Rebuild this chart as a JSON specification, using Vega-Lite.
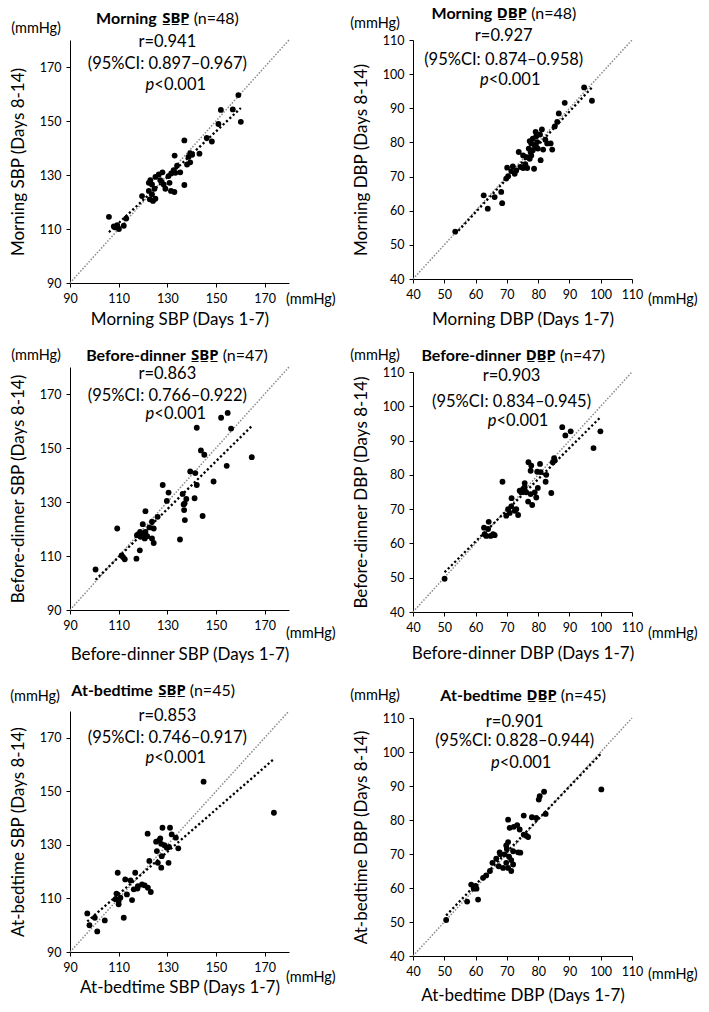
{
  "$schema": "https://vega.github.io/schema/vega-lite/v6.json",
  "background": "white",
  "padding": {"left": 9, "top": 6, "right": 3, "bottom": 3},
  "config": {
    "view": {"stroke": null},
    "axis": {"grid": false, "domainColor": "#000", "tickColor": "#000", "labelColor": "#000", "titleColor": "#000", "labelFont": "Lato", "titleFont": "Lato", "labelFontSize": 12.5, "titleFontSize": 17, "titleFontWeight": "normal", "tickSize": 4, "labelFlush": false, "labelOverlap": false},
    "axisX": {"labelPadding": 5, "titlePadding": 5},
    "axisY": {"labelPadding": 5, "titlePadding": 12},
    "text": {"font": "Lato", "fontSize": 16.5, "color": "#000"}
  },
  "datasets": {
    "p1": [{"x":159.2,"y":159.6},{"x":152.0,"y":154.1},{"x":156.9,"y":154.3},{"x":160.2,"y":149.7},{"x":151.0,"y":148.9},{"x":146.2,"y":143.7},{"x":148.3,"y":142.4},{"x":137.0,"y":142.8},{"x":133.0,"y":137.2},{"x":139.4,"y":138.1},{"x":138.7,"y":136.7},{"x":143.2,"y":137.9},{"x":139.4,"y":134.7},{"x":138.1,"y":133.9},{"x":134.0,"y":133.5},{"x":132.6,"y":131.8},{"x":131.6,"y":130.6},{"x":133.3,"y":130.8},{"x":130.5,"y":129.6},{"x":126.5,"y":130.2},{"x":125.1,"y":129.3},{"x":123.0,"y":128.1},{"x":122.4,"y":127.1},{"x":123.7,"y":126.5},{"x":127.1,"y":128.1},{"x":128.5,"y":126.5},{"x":130.9,"y":127.1},{"x":129.2,"y":124.9},{"x":131.5,"y":124.1},{"x":132.9,"y":123.7},{"x":137.0,"y":126.3},{"x":124.7,"y":124.9},{"x":123.7,"y":122.8},{"x":125.1,"y":121.2},{"x":124.1,"y":120.4},{"x":119.6,"y":122.2},{"x":122.4,"y":124.1},{"x":122.8,"y":121.0},{"x":106.0,"y":114.5},{"x":109.4,"y":111.4},{"x":108.7,"y":110.6},{"x":112.1,"y":111.2},{"x":110.1,"y":110.0},{"x":113.1,"y":113.9},{"x":108.0,"y":111.0},{"x":135.3,"y":131.0},{"x":140.2,"y":137.5},{"x":128.0,"y":131.0}],
    "p2": [{"x":94.7,"y":96.1},{"x":97.2,"y":92.2},{"x":88.5,"y":91.6},{"x":86.6,"y":88.5},{"x":86.1,"y":86.0},{"x":85.3,"y":84.7},{"x":81.2,"y":83.8},{"x":80.6,"y":82.3},{"x":79.4,"y":81.8},{"x":78.3,"y":81.1},{"x":77.3,"y":80.4},{"x":77.8,"y":79.7},{"x":82.9,"y":79.7},{"x":84.0,"y":79.7},{"x":84.5,"y":77.9},{"x":81.6,"y":77.9},{"x":79.9,"y":78.2},{"x":78.3,"y":77.7},{"x":77.6,"y":77.2},{"x":73.8,"y":77.2},{"x":75.2,"y":76.2},{"x":76.2,"y":75.7},{"x":77.3,"y":75.2},{"x":77.8,"y":76.2},{"x":80.8,"y":74.8},{"x":70.1,"y":72.6},{"x":71.4,"y":71.6},{"x":72.5,"y":70.8},{"x":73.0,"y":71.8},{"x":74.4,"y":72.8},{"x":75.2,"y":72.5},{"x":76.5,"y":72.5},{"x":78.7,"y":72.3},{"x":69.8,"y":69.4},{"x":62.6,"y":64.5},{"x":66.1,"y":64.0},{"x":68.2,"y":65.5},{"x":63.9,"y":60.6},{"x":68.5,"y":62.2},{"x":53.5,"y":53.9},{"x":79.2,"y":83.1},{"x":79.7,"y":80.1},{"x":82.3,"y":80.8},{"x":77.0,"y":78.2},{"x":70.4,"y":70.1},{"x":71.9,"y":73.0},{"x":78.9,"y":79.2},{"x":75.9,"y":73.6}],
    "p3": [{"x":154.8,"y":163.0},{"x":152.1,"y":161.2},{"x":142.1,"y":157.5},{"x":156.2,"y":157.2},{"x":164.7,"y":146.6},{"x":154.4,"y":143.4},{"x":143.8,"y":149.1},{"x":145.2,"y":147.5},{"x":139.4,"y":141.3},{"x":141.5,"y":140.7},{"x":149.0,"y":137.6},{"x":142.1,"y":136.3},{"x":128.1,"y":136.3},{"x":130.5,"y":133.5},{"x":136.3,"y":133.0},{"x":137.8,"y":131.1},{"x":141.2,"y":131.4},{"x":129.8,"y":130.4},{"x":136.7,"y":129.1},{"x":136.9,"y":127.0},{"x":137.2,"y":123.3},{"x":144.5,"y":124.8},{"x":135.2,"y":116.1},{"x":121.0,"y":126.6},{"x":126.0,"y":124.5},{"x":123.7,"y":122.7},{"x":119.9,"y":121.8},{"x":109.4,"y":120.2},{"x":124.4,"y":120.2},{"x":118.8,"y":118.9},{"x":117.5,"y":117.7},{"x":120.2,"y":118.3},{"x":121.0,"y":118.9},{"x":119.0,"y":117.1},{"x":121.7,"y":117.3},{"x":123.7,"y":116.5},{"x":124.4,"y":114.8},{"x":118.7,"y":112.1},{"x":117.3,"y":109.0},{"x":111.8,"y":109.6},{"x":112.5,"y":108.8},{"x":111.2,"y":110.2},{"x":100.5,"y":105.0},{"x":122.6,"y":120.6},{"x":118.1,"y":118.1},{"x":137.1,"y":129.5},{"x":120.7,"y":116.5}],
    "p4": [{"x":87.7,"y":93.9},{"x":90.4,"y":92.7},{"x":88.7,"y":91.5},{"x":99.9,"y":92.7},{"x":97.7,"y":87.8},{"x":85.1,"y":84.9},{"x":84.7,"y":83.7},{"x":76.9,"y":83.7},{"x":77.6,"y":81.2},{"x":80.6,"y":83.2},{"x":79.7,"y":80.9},{"x":80.8,"y":80.8},{"x":82.6,"y":80.0},{"x":82.4,"y":78.0},{"x":68.6,"y":78.0},{"x":75.7,"y":77.6},{"x":75.2,"y":75.9},{"x":76.2,"y":74.9},{"x":79.9,"y":76.2},{"x":78.9,"y":74.9},{"x":77.6,"y":74.4},{"x":74.6,"y":74.9},{"x":84.2,"y":74.7},{"x":76.8,"y":72.2},{"x":78.1,"y":71.2},{"x":71.5,"y":73.2},{"x":71.4,"y":70.8},{"x":72.5,"y":69.5},{"x":70.9,"y":68.9},{"x":69.8,"y":68.1},{"x":73.6,"y":68.3},{"x":64.2,"y":66.3},{"x":62.7,"y":64.6},{"x":64.0,"y":64.2},{"x":63.4,"y":62.2},{"x":64.8,"y":62.2},{"x":66.1,"y":62.4},{"x":50.1,"y":49.7},{"x":74.1,"y":75.4},{"x":75.7,"y":76.4},{"x":79.4,"y":73.4},{"x":73.0,"y":70.0},{"x":62.9,"y":62.7},{"x":65.6,"y":62.7},{"x":85.3,"y":84.2},{"x":77.8,"y":82.7},{"x":70.4,"y":70.0}],
    "p5": [{"x":144.9,"y":153.6},{"x":173.8,"y":142.0},{"x":121.9,"y":134.2},{"x":128.0,"y":136.4},{"x":131.1,"y":136.4},{"x":131.8,"y":133.9},{"x":133.5,"y":132.7},{"x":127.1,"y":132.4},{"x":125.4,"y":131.2},{"x":127.5,"y":130.4},{"x":128.8,"y":129.9},{"x":130.7,"y":129.2},{"x":134.5,"y":128.7},{"x":125.7,"y":127.7},{"x":127.7,"y":125.8},{"x":122.6,"y":124.0},{"x":126.1,"y":123.3},{"x":130.5,"y":123.3},{"x":127.5,"y":121.5},{"x":109.6,"y":119.6},{"x":112.7,"y":117.1},{"x":114.9,"y":116.7},{"x":116.8,"y":119.6},{"x":119.6,"y":115.2},{"x":117.9,"y":114.6},{"x":116.2,"y":113.4},{"x":122.0,"y":114.0},{"x":123.2,"y":112.4},{"x":113.4,"y":111.5},{"x":109.1,"y":111.8},{"x":110.7,"y":110.3},{"x":108.7,"y":109.7},{"x":110.0,"y":107.8},{"x":115.5,"y":109.4},{"x":112.1,"y":102.8},{"x":97.1,"y":104.4},{"x":100.2,"y":102.8},{"x":104.3,"y":101.8},{"x":98.0,"y":100.0},{"x":101.2,"y":97.7},{"x":120.7,"y":114.9},{"x":129.8,"y":128.9},{"x":126.7,"y":131.8},{"x":110.0,"y":109.0},{"x":117.7,"y":113.7}],
    "p6": [{"x":100.2,"y":89.0},{"x":81.9,"y":88.3},{"x":80.5,"y":87.0},{"x":80.2,"y":86.0},{"x":82.4,"y":81.8},{"x":75.4,"y":81.3},{"x":78.0,"y":80.8},{"x":79.4,"y":80.6},{"x":70.4,"y":80.1},{"x":73.3,"y":78.5},{"x":70.9,"y":77.7},{"x":74.1,"y":77.2},{"x":75.4,"y":75.7},{"x":76.2,"y":75.4},{"x":76.8,"y":75.0},{"x":70.4,"y":73.5},{"x":69.8,"y":72.5},{"x":70.0,"y":71.5},{"x":73.6,"y":70.5},{"x":74.3,"y":70.4},{"x":72.0,"y":70.8},{"x":67.9,"y":69.9},{"x":69.3,"y":69.9},{"x":70.7,"y":69.2},{"x":71.4,"y":68.2},{"x":66.6,"y":68.6},{"x":65.4,"y":67.4},{"x":69.8,"y":67.4},{"x":72.0,"y":66.9},{"x":68.8,"y":65.9},{"x":70.4,"y":65.9},{"x":71.4,"y":65.0},{"x":64.6,"y":65.0},{"x":63.4,"y":63.7},{"x":62.4,"y":63.0},{"x":67.4,"y":66.4},{"x":58.6,"y":61.0},{"x":60.0,"y":60.6},{"x":59.4,"y":59.8},{"x":60.3,"y":59.8},{"x":57.3,"y":56.0},{"x":60.8,"y":56.6},{"x":50.6,"y":50.6},{"x":67.7,"y":70.5},{"x":72.2,"y":78.0}],
    "one": [{}]
  },
  "concat": [
    {
      "width": 219, "height": 243,
      "layer": [
        {"data": {"name": "one"}, "mark": {"type": "rule", "color": "#8a8a8a", "strokeDash": [1.5, 1.6], "strokeWidth": 1.5}, "encoding": {"x": {"datum": 90, "type": "quantitative"}, "y": {"datum": 90, "type": "quantitative"}, "x2": {"datum": 180}, "y2": {"datum": 180}}},
        {"data": {"name": "p1"}, "transform": [{"regression": "y", "on": "x"}], "mark": {"type": "line", "color": "#000", "strokeDash": [2.2, 2.4], "strokeWidth": 2.3}, "encoding": {"x": {"field": "x", "type": "quantitative"}, "y": {"field": "y", "type": "quantitative"}}},
        {"data": {"name": "p1"}, "mark": {"type": "circle", "size": 34, "color": "#000", "opacity": 1}, "encoding": {
          "x": {"field": "x", "type": "quantitative", "scale": {"domain": [90, 180], "nice": false, "zero": false}, "axis": {"title": "Morning SBP (Days 1-7)", "values": [90, 110, 130, 150, 170], "tickCount": 10, "titlePadding": 7}},
          "y": {"field": "y", "type": "quantitative", "scale": {"domain": [90, 180], "nice": false, "zero": false}, "axis": {"title": "Morning SBP (Days 8-14)", "values": [90, 110, 130, 150, 170], "tickCount": 10}}}},
        {"data": {"name": "one"}, "mark": {"type": "text", "text": "Morning", "fontWeight": "bold", "fontSize": 16, "align": "right", "baseline": "middle", "dx": -34, "dy": -21}, "encoding": {"x": {"datum": 139.6, "type": "quantitative"}, "y": {"datum": 180, "type": "quantitative"}}},
        {"data": {"name": "one"}, "mark": {"type": "text", "text": "S\u0332B\u0332P\u0332", "font": "Noto Sans, DejaVu Sans", "fontWeight": "bold", "fontSize": 15, "align": "right", "baseline": "middle", "dx": -1, "dy": -22}, "encoding": {"x": {"datum": 139.6, "type": "quantitative"}, "y": {"datum": 180, "type": "quantitative"}}},
        {"data": {"name": "one"}, "mark": {"type": "text", "text": "(n=48)", "fontSize": 16, "align": "left", "baseline": "middle", "dx": 3, "dy": -21}, "encoding": {"x": {"datum": 139.6, "type": "quantitative"}, "y": {"datum": 180, "type": "quantitative"}}},
        {"data": {"name": "one"}, "mark": {"type": "text", "text": "(mmHg)", "fontSize": 14.5, "align": "right", "baseline": "middle", "dx": -9, "dy": -11}, "encoding": {"x": {"datum": 90, "type": "quantitative"}, "y": {"datum": 180, "type": "quantitative"}}},
        {"data": {"name": "one"}, "mark": {"type": "text", "text": "(mmHg)", "fontSize": 14.5, "align": "left", "baseline": "middle", "dx": -3, "dy": 17}, "encoding": {"x": {"datum": 180, "type": "quantitative"}, "y": {"datum": 90, "type": "quantitative"}}},
        {"data": {"name": "one"}, "mark": {"type": "text", "text": "r=0.941", "align": "center", "baseline": "middle", "dy": 2}, "encoding": {"x": {"datum": 130, "type": "quantitative"}, "y": {"datum": 180, "type": "quantitative"}}},
        {"data": {"name": "one"}, "mark": {"type": "text", "text": "(95%CI: 0.897\u20130.967)", "align": "center", "baseline": "middle", "dy": 24}, "encoding": {"x": {"datum": 130, "type": "quantitative"}, "y": {"datum": 180, "type": "quantitative"}}},
        {"data": {"name": "one"}, "mark": {"type": "text", "text": "p", "fontStyle": "italic", "align": "right", "baseline": "middle", "dx": -13, "dy": 45}, "encoding": {"x": {"datum": 130, "type": "quantitative"}, "y": {"datum": 180, "type": "quantitative"}}},
        {"data": {"name": "one"}, "mark": {"type": "text", "text": "<0.001", "align": "left", "baseline": "middle", "dx": -13, "dy": 45}, "encoding": {"x": {"datum": 130, "type": "quantitative"}, "y": {"datum": 180, "type": "quantitative"}}}
      ]
    },
    {
      "width": 219, "height": 239,
      "layer": [
        {"data": {"name": "one"}, "mark": {"type": "rule", "color": "#8a8a8a", "strokeDash": [1.5, 1.6], "strokeWidth": 1.5}, "encoding": {"x": {"datum": 40, "type": "quantitative"}, "y": {"datum": 40, "type": "quantitative"}, "x2": {"datum": 110}, "y2": {"datum": 110}}},
        {"data": {"name": "p2"}, "transform": [{"regression": "y", "on": "x"}], "mark": {"type": "line", "color": "#000", "strokeDash": [2.2, 2.4], "strokeWidth": 2.3}, "encoding": {"x": {"field": "x", "type": "quantitative"}, "y": {"field": "y", "type": "quantitative"}}},
        {"data": {"name": "p2"}, "mark": {"type": "circle", "size": 34, "color": "#000", "opacity": 1}, "encoding": {
          "x": {"field": "x", "type": "quantitative", "scale": {"domain": [40, 110], "nice": false, "zero": false}, "axis": {"title": "Morning DBP (Days 1-7)", "values": [40, 50, 60, 70, 80, 90, 100, 110], "tickCount": 10, "titlePadding": 11}},
          "y": {"field": "y", "type": "quantitative", "scale": {"domain": [40, 110], "nice": false, "zero": false}, "axis": {"title": "Morning DBP (Days 8-14)", "values": [40, 50, 60, 70, 80, 90, 100, 110], "tickCount": 10}}}},
        {"data": {"name": "one"}, "mark": {"type": "text", "text": "Morning", "fontWeight": "bold", "fontSize": 16, "align": "right", "baseline": "middle", "dx": -36, "dy": -26}, "encoding": {"x": {"datum": 76.8, "type": "quantitative"}, "y": {"datum": 110, "type": "quantitative"}}},
        {"data": {"name": "one"}, "mark": {"type": "text", "text": "D\u0332B\u0332P\u0332", "font": "Noto Sans, DejaVu Sans", "fontWeight": "bold", "fontSize": 15, "align": "right", "baseline": "middle", "dx": -1, "dy": -27}, "encoding": {"x": {"datum": 76.8, "type": "quantitative"}, "y": {"datum": 110, "type": "quantitative"}}},
        {"data": {"name": "one"}, "mark": {"type": "text", "text": "(n=48)", "fontSize": 16, "align": "left", "baseline": "middle", "dx": 3, "dy": -26}, "encoding": {"x": {"datum": 76.8, "type": "quantitative"}, "y": {"datum": 110, "type": "quantitative"}}},
        {"data": {"name": "one"}, "mark": {"type": "text", "text": "(mmHg)", "fontSize": 14.5, "align": "right", "baseline": "middle", "dx": -13, "dy": -16}, "encoding": {"x": {"datum": 40, "type": "quantitative"}, "y": {"datum": 110, "type": "quantitative"}}},
        {"data": {"name": "one"}, "mark": {"type": "text", "text": "(mmHg)", "fontSize": 14.5, "align": "left", "baseline": "middle", "dx": 16, "dy": 21}, "encoding": {"x": {"datum": 110, "type": "quantitative"}, "y": {"datum": 40, "type": "quantitative"}}},
        {"data": {"name": "one"}, "mark": {"type": "text", "text": "r=0.927", "align": "center", "baseline": "middle", "dy": -4}, "encoding": {"x": {"datum": 69, "type": "quantitative"}, "y": {"datum": 110, "type": "quantitative"}}},
        {"data": {"name": "one"}, "mark": {"type": "text", "text": "(95%CI: 0.874\u20130.958)", "align": "center", "baseline": "middle", "dy": 20}, "encoding": {"x": {"datum": 69, "type": "quantitative"}, "y": {"datum": 110, "type": "quantitative"}}},
        {"data": {"name": "one"}, "mark": {"type": "text", "text": "p", "fontStyle": "italic", "align": "right", "baseline": "middle", "dx": -15, "dy": 40}, "encoding": {"x": {"datum": 69, "type": "quantitative"}, "y": {"datum": 110, "type": "quantitative"}}},
        {"data": {"name": "one"}, "mark": {"type": "text", "text": "<0.001", "align": "left", "baseline": "middle", "dx": -15, "dy": 40}, "encoding": {"x": {"datum": 69, "type": "quantitative"}, "y": {"datum": 110, "type": "quantitative"}}}
      ]
    },
    {
      "width": 219, "height": 243,
      "layer": [
        {"data": {"name": "one"}, "mark": {"type": "rule", "color": "#8a8a8a", "strokeDash": [1.5, 1.6], "strokeWidth": 1.5}, "encoding": {"x": {"datum": 90, "type": "quantitative"}, "y": {"datum": 90, "type": "quantitative"}, "x2": {"datum": 180}, "y2": {"datum": 180}}},
        {"data": {"name": "p3"}, "transform": [{"regression": "y", "on": "x"}], "mark": {"type": "line", "color": "#000", "strokeDash": [2.2, 2.4], "strokeWidth": 2.3}, "encoding": {"x": {"field": "x", "type": "quantitative"}, "y": {"field": "y", "type": "quantitative"}}},
        {"data": {"name": "p3"}, "mark": {"type": "circle", "size": 34, "color": "#000", "opacity": 1}, "encoding": {
          "x": {"field": "x", "type": "quantitative", "scale": {"domain": [90, 180], "nice": false, "zero": false}, "axis": {"title": "Before-dinner SBP (Days 1-7)", "values": [90, 110, 130, 150, 170], "tickCount": 10, "titlePadding": 15}},
          "y": {"field": "y", "type": "quantitative", "scale": {"domain": [90, 180], "nice": false, "zero": false}, "axis": {"title": "Before-dinner SBP (Days 8-14)", "values": [90, 110, 130, 150, 170], "tickCount": 10}}}},
        {"data": {"name": "one"}, "mark": {"type": "text", "text": "Before-dinner", "fontWeight": "bold", "fontSize": 16, "align": "right", "baseline": "middle", "dx": -34, "dy": -11}, "encoding": {"x": {"datum": 151.5, "type": "quantitative"}, "y": {"datum": 180, "type": "quantitative"}}},
        {"data": {"name": "one"}, "mark": {"type": "text", "text": "S\u0332B\u0332P\u0332", "font": "Noto Sans, DejaVu Sans", "fontWeight": "bold", "fontSize": 15, "align": "right", "baseline": "middle", "dx": -1, "dy": -12}, "encoding": {"x": {"datum": 151.5, "type": "quantitative"}, "y": {"datum": 180, "type": "quantitative"}}},
        {"data": {"name": "one"}, "mark": {"type": "text", "text": "(n=47)", "fontSize": 16, "align": "left", "baseline": "middle", "dx": 3, "dy": -11}, "encoding": {"x": {"datum": 151.5, "type": "quantitative"}, "y": {"datum": 180, "type": "quantitative"}}},
        {"data": {"name": "one"}, "mark": {"type": "text", "text": "(mmHg)", "fontSize": 14.5, "align": "right", "baseline": "middle", "dx": -9, "dy": -11}, "encoding": {"x": {"datum": 90, "type": "quantitative"}, "y": {"datum": 180, "type": "quantitative"}}},
        {"data": {"name": "one"}, "mark": {"type": "text", "text": "(mmHg)", "fontSize": 14.5, "align": "left", "baseline": "middle", "dx": -3, "dy": 24}, "encoding": {"x": {"datum": 180, "type": "quantitative"}, "y": {"datum": 90, "type": "quantitative"}}},
        {"data": {"name": "one"}, "mark": {"type": "text", "text": "r=0.863", "align": "center", "baseline": "middle", "dy": 7}, "encoding": {"x": {"datum": 130, "type": "quantitative"}, "y": {"datum": 180, "type": "quantitative"}}},
        {"data": {"name": "one"}, "mark": {"type": "text", "text": "(95%CI: 0.766\u20130.922)", "align": "center", "baseline": "middle", "dy": 29}, "encoding": {"x": {"datum": 130, "type": "quantitative"}, "y": {"datum": 180, "type": "quantitative"}}},
        {"data": {"name": "one"}, "mark": {"type": "text", "text": "p", "fontStyle": "italic", "align": "right", "baseline": "middle", "dx": -13, "dy": 47}, "encoding": {"x": {"datum": 130, "type": "quantitative"}, "y": {"datum": 180, "type": "quantitative"}}},
        {"data": {"name": "one"}, "mark": {"type": "text", "text": "<0.001", "align": "left", "baseline": "middle", "dx": -13, "dy": 47}, "encoding": {"x": {"datum": 130, "type": "quantitative"}, "y": {"datum": 180, "type": "quantitative"}}}
      ]
    },
    {
      "width": 219, "height": 240,
      "layer": [
        {"data": {"name": "one"}, "mark": {"type": "rule", "color": "#8a8a8a", "strokeDash": [1.5, 1.6], "strokeWidth": 1.5}, "encoding": {"x": {"datum": 40, "type": "quantitative"}, "y": {"datum": 40, "type": "quantitative"}, "x2": {"datum": 110}, "y2": {"datum": 110}}},
        {"data": {"name": "p4"}, "transform": [{"regression": "y", "on": "x"}], "mark": {"type": "line", "color": "#000", "strokeDash": [2.2, 2.4], "strokeWidth": 2.3}, "encoding": {"x": {"field": "x", "type": "quantitative"}, "y": {"field": "y", "type": "quantitative"}}},
        {"data": {"name": "p4"}, "mark": {"type": "circle", "size": 34, "color": "#000", "opacity": 1}, "encoding": {
          "x": {"field": "x", "type": "quantitative", "scale": {"domain": [40, 110], "nice": false, "zero": false}, "axis": {"title": "Before-dinner DBP (Days 1-7)", "values": [40, 50, 60, 70, 80, 90, 100, 110], "tickCount": 10, "titlePadding": 12}},
          "y": {"field": "y", "type": "quantitative", "scale": {"domain": [40, 110], "nice": false, "zero": false}, "axis": {"title": "Before-dinner DBP (Days 8-14)", "values": [40, 50, 60, 70, 80, 90, 100, 110], "tickCount": 10}}}},
        {"data": {"name": "one"}, "mark": {"type": "text", "text": "Before-dinner", "fontWeight": "bold", "fontSize": 16, "align": "right", "baseline": "middle", "dx": -36, "dy": -16}, "encoding": {"x": {"datum": 86.0, "type": "quantitative"}, "y": {"datum": 110, "type": "quantitative"}}},
        {"data": {"name": "one"}, "mark": {"type": "text", "text": "D\u0332B\u0332P\u0332", "font": "Noto Sans, DejaVu Sans", "fontWeight": "bold", "fontSize": 15, "align": "right", "baseline": "middle", "dx": -1, "dy": -17}, "encoding": {"x": {"datum": 86.0, "type": "quantitative"}, "y": {"datum": 110, "type": "quantitative"}}},
        {"data": {"name": "one"}, "mark": {"type": "text", "text": "(n=47)", "fontSize": 16, "align": "left", "baseline": "middle", "dx": 3, "dy": -16}, "encoding": {"x": {"datum": 86.0, "type": "quantitative"}, "y": {"datum": 110, "type": "quantitative"}}},
        {"data": {"name": "one"}, "mark": {"type": "text", "text": "(mmHg)", "fontSize": 14.5, "align": "right", "baseline": "middle", "dx": -13, "dy": -16}, "encoding": {"x": {"datum": 40, "type": "quantitative"}, "y": {"datum": 110, "type": "quantitative"}}},
        {"data": {"name": "one"}, "mark": {"type": "text", "text": "(mmHg)", "fontSize": 14.5, "align": "left", "baseline": "middle", "dx": 16, "dy": 22}, "encoding": {"x": {"datum": 110, "type": "quantitative"}, "y": {"datum": 40, "type": "quantitative"}}},
        {"data": {"name": "one"}, "mark": {"type": "text", "text": "r=0.903", "align": "center", "baseline": "middle", "dy": 4}, "encoding": {"x": {"datum": 71.5, "type": "quantitative"}, "y": {"datum": 110, "type": "quantitative"}}},
        {"data": {"name": "one"}, "mark": {"type": "text", "text": "(95%CI: 0.834\u20130.945)", "align": "center", "baseline": "middle", "dy": 30}, "encoding": {"x": {"datum": 71.5, "type": "quantitative"}, "y": {"datum": 110, "type": "quantitative"}}},
        {"data": {"name": "one"}, "mark": {"type": "text", "text": "p", "fontStyle": "italic", "align": "right", "baseline": "middle", "dx": -15, "dy": 49}, "encoding": {"x": {"datum": 71.5, "type": "quantitative"}, "y": {"datum": 110, "type": "quantitative"}}},
        {"data": {"name": "one"}, "mark": {"type": "text", "text": "<0.001", "align": "left", "baseline": "middle", "dx": -15, "dy": 49}, "encoding": {"x": {"datum": 71.5, "type": "quantitative"}, "y": {"datum": 110, "type": "quantitative"}}}
      ]
    },
    {
      "width": 219, "height": 241,
      "layer": [
        {"data": {"name": "one"}, "mark": {"type": "rule", "color": "#8a8a8a", "strokeDash": [1.5, 1.6], "strokeWidth": 1.5}, "encoding": {"x": {"datum": 90, "type": "quantitative"}, "y": {"datum": 90, "type": "quantitative"}, "x2": {"datum": 180}, "y2": {"datum": 180}}},
        {"data": {"name": "p5"}, "transform": [{"regression": "y", "on": "x"}], "mark": {"type": "line", "color": "#000", "strokeDash": [2.2, 2.4], "strokeWidth": 2.3}, "encoding": {"x": {"field": "x", "type": "quantitative"}, "y": {"field": "y", "type": "quantitative"}}},
        {"data": {"name": "p5"}, "mark": {"type": "circle", "size": 34, "color": "#000", "opacity": 1}, "encoding": {
          "x": {"field": "x", "type": "quantitative", "scale": {"domain": [90, 180], "nice": false, "zero": false}, "axis": {"title": "At-bedtime SBP (Days 1-7)", "values": [90, 110, 130, 150, 170], "tickCount": 10, "titlePadding": 6}},
          "y": {"field": "y", "type": "quantitative", "scale": {"domain": [90, 180], "nice": false, "zero": false}, "axis": {"title": "At-bedtime SBP (Days 8-14)", "values": [90, 110, 130, 150, 170], "tickCount": 10}}}},
        {"data": {"name": "one"}, "mark": {"type": "text", "text": "At-bedtime", "fontWeight": "bold", "fontSize": 16, "align": "right", "baseline": "middle", "dx": -34, "dy": -20}, "encoding": {"x": {"datum": 138.0, "type": "quantitative"}, "y": {"datum": 180, "type": "quantitative"}}},
        {"data": {"name": "one"}, "mark": {"type": "text", "text": "S\u0332B\u0332P\u0332", "font": "Noto Sans, DejaVu Sans", "fontWeight": "bold", "fontSize": 15, "align": "right", "baseline": "middle", "dx": -1, "dy": -21}, "encoding": {"x": {"datum": 138.0, "type": "quantitative"}, "y": {"datum": 180, "type": "quantitative"}}},
        {"data": {"name": "one"}, "mark": {"type": "text", "text": "(n=45)", "fontSize": 16, "align": "left", "baseline": "middle", "dx": 3, "dy": -20}, "encoding": {"x": {"datum": 138.0, "type": "quantitative"}, "y": {"datum": 180, "type": "quantitative"}}},
        {"data": {"name": "one"}, "mark": {"type": "text", "text": "(mmHg)", "fontSize": 14.5, "align": "right", "baseline": "middle", "dx": -10, "dy": -14}, "encoding": {"x": {"datum": 90, "type": "quantitative"}, "y": {"datum": 180, "type": "quantitative"}}},
        {"data": {"name": "one"}, "mark": {"type": "text", "text": "(mmHg)", "fontSize": 14.5, "align": "left", "baseline": "middle", "dx": -3, "dy": 26}, "encoding": {"x": {"datum": 180, "type": "quantitative"}, "y": {"datum": 90, "type": "quantitative"}}},
        {"data": {"name": "one"}, "mark": {"type": "text", "text": "r=0.853", "align": "center", "baseline": "middle", "dy": 5}, "encoding": {"x": {"datum": 130, "type": "quantitative"}, "y": {"datum": 180, "type": "quantitative"}}},
        {"data": {"name": "one"}, "mark": {"type": "text", "text": "(95%CI: 0.746\u20130.917)", "align": "center", "baseline": "middle", "dy": 27}, "encoding": {"x": {"datum": 130, "type": "quantitative"}, "y": {"datum": 180, "type": "quantitative"}}},
        {"data": {"name": "one"}, "mark": {"type": "text", "text": "p", "fontStyle": "italic", "align": "right", "baseline": "middle", "dx": -13, "dy": 47}, "encoding": {"x": {"datum": 130, "type": "quantitative"}, "y": {"datum": 180, "type": "quantitative"}}},
        {"data": {"name": "one"}, "mark": {"type": "text", "text": "<0.001", "align": "left", "baseline": "middle", "dx": -13, "dy": 47}, "encoding": {"x": {"datum": 130, "type": "quantitative"}, "y": {"datum": 180, "type": "quantitative"}}}
      ]
    },
    {
      "width": 219, "height": 238,
      "layer": [
        {"data": {"name": "one"}, "mark": {"type": "rule", "color": "#8a8a8a", "strokeDash": [1.5, 1.6], "strokeWidth": 1.5}, "encoding": {"x": {"datum": 40, "type": "quantitative"}, "y": {"datum": 40, "type": "quantitative"}, "x2": {"datum": 110}, "y2": {"datum": 110}}},
        {"data": {"name": "p6"}, "transform": [{"regression": "y", "on": "x"}], "mark": {"type": "line", "color": "#000", "strokeDash": [2.2, 2.4], "strokeWidth": 2.3}, "encoding": {"x": {"field": "x", "type": "quantitative"}, "y": {"field": "y", "type": "quantitative"}}},
        {"data": {"name": "p6"}, "mark": {"type": "circle", "size": 34, "color": "#000", "opacity": 1}, "encoding": {
          "x": {"field": "x", "type": "quantitative", "scale": {"domain": [40, 110], "nice": false, "zero": false}, "axis": {"title": "At-bedtime DBP (Days 1-7)", "values": [40, 50, 60, 70, 80, 90, 100, 110], "tickCount": 10, "titlePadding": 10}},
          "y": {"field": "y", "type": "quantitative", "scale": {"domain": [40, 110], "nice": false, "zero": false}, "axis": {"title": "At-bedtime DBP (Days 8-14)", "values": [40, 50, 60, 70, 80, 90, 100, 110], "tickCount": 10}}}},
        {"data": {"name": "one"}, "mark": {"type": "text", "text": "At-bedtime", "fontWeight": "bold", "fontSize": 16, "align": "right", "baseline": "middle", "dx": -36, "dy": -22}, "encoding": {"x": {"datum": 86.3, "type": "quantitative"}, "y": {"datum": 110, "type": "quantitative"}}},
        {"data": {"name": "one"}, "mark": {"type": "text", "text": "D\u0332B\u0332P\u0332", "font": "Noto Sans, DejaVu Sans", "fontWeight": "bold", "fontSize": 15, "align": "right", "baseline": "middle", "dx": -1, "dy": -23}, "encoding": {"x": {"datum": 86.3, "type": "quantitative"}, "y": {"datum": 110, "type": "quantitative"}}},
        {"data": {"name": "one"}, "mark": {"type": "text", "text": "(n=45)", "fontSize": 16, "align": "left", "baseline": "middle", "dx": 3, "dy": -22}, "encoding": {"x": {"datum": 86.3, "type": "quantitative"}, "y": {"datum": 110, "type": "quantitative"}}},
        {"data": {"name": "one"}, "mark": {"type": "text", "text": "(mmHg)", "fontSize": 14.5, "align": "right", "baseline": "middle", "dx": -13, "dy": -22}, "encoding": {"x": {"datum": 40, "type": "quantitative"}, "y": {"datum": 110, "type": "quantitative"}}},
        {"data": {"name": "one"}, "mark": {"type": "text", "text": "(mmHg)", "fontSize": 14.5, "align": "left", "baseline": "middle", "dx": 16, "dy": 19}, "encoding": {"x": {"datum": 110, "type": "quantitative"}, "y": {"datum": 40, "type": "quantitative"}}},
        {"data": {"name": "one"}, "mark": {"type": "text", "text": "r=0.901", "align": "center", "baseline": "middle", "dy": 4}, "encoding": {"x": {"datum": 72.5, "type": "quantitative"}, "y": {"datum": 110, "type": "quantitative"}}},
        {"data": {"name": "one"}, "mark": {"type": "text", "text": "(95%CI: 0.828\u20130.944)", "align": "center", "baseline": "middle", "dy": 23}, "encoding": {"x": {"datum": 72.5, "type": "quantitative"}, "y": {"datum": 110, "type": "quantitative"}}},
        {"data": {"name": "one"}, "mark": {"type": "text", "text": "p", "fontStyle": "italic", "align": "right", "baseline": "middle", "dx": -15, "dy": 45}, "encoding": {"x": {"datum": 72.5, "type": "quantitative"}, "y": {"datum": 110, "type": "quantitative"}}},
        {"data": {"name": "one"}, "mark": {"type": "text", "text": "<0.001", "align": "left", "baseline": "middle", "dx": -15, "dy": 45}, "encoding": {"x": {"datum": 72.5, "type": "quantitative"}, "y": {"datum": 110, "type": "quantitative"}}}
      ]
    }
  ],
  "columns": 2,
  "align": "none",
  "bounds": "full",
  "spacing": {"row": 20, "column": 14}
}
